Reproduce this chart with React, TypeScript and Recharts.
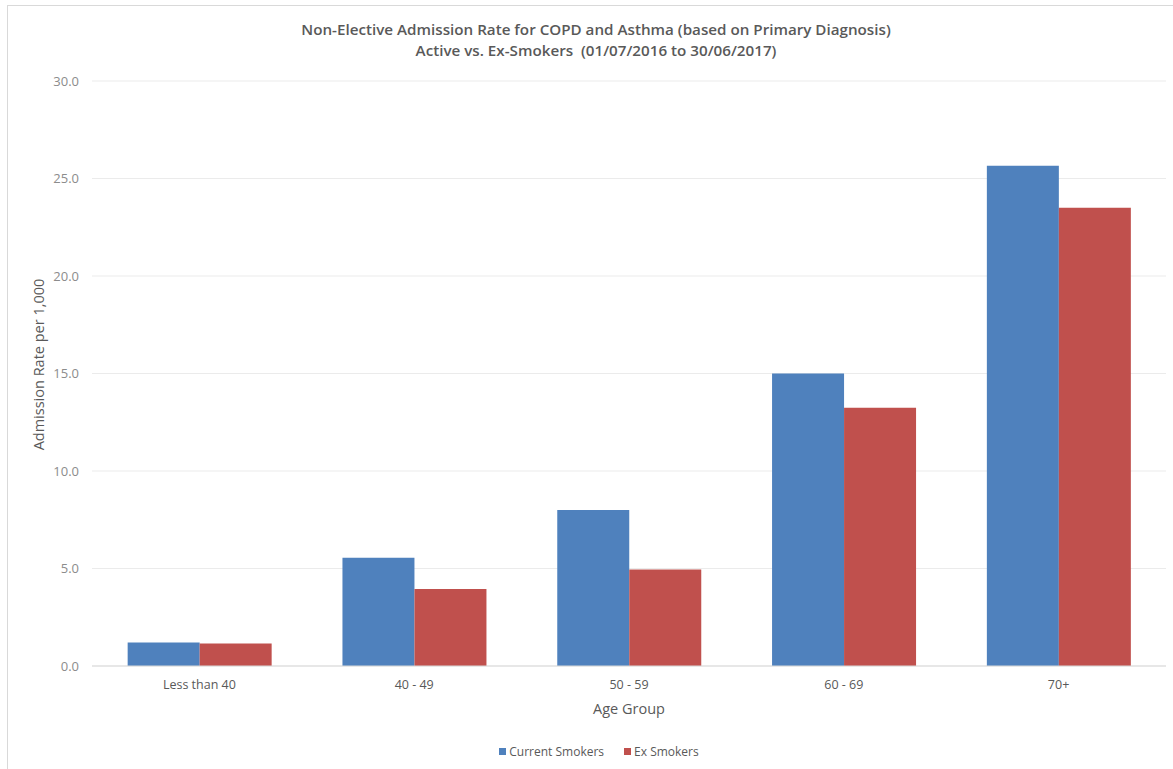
import React from 'react';
import { BarChart, Bar, XAxis, YAxis, CartesianGrid, Legend } from 'recharts';

const categories = ['Less than 40', '40 - 49', '50 - 59', '60 - 69', '70+'];
const currentSmokers = [1.2, 5.55, 8.0, 15.0, 25.65];
const exSmokers = [1.15, 3.95, 4.95, 13.25, 23.5];
const yTicks = [0, 5, 10, 15, 20, 25, 30];

const data = categories.map((c, i) => ({
  group: c,
  current: currentSmokers[i],
  ex: exSmokers[i],
}));

const FONT = '"Open Sans", "Noto Sans", sans-serif';

const renderLegend = (props: any) => {
  const payload = props.payload || [];
  return (
    <div
      style={{
        height: 20,
        display: 'flex',
        justifyContent: 'center',
        alignItems: 'center',
        fontFamily: FONT,
        fontSize: 12,
        color: '#595959',
      }}
    >
      {payload.map((p: any, i: number) => (
        <div key={i} style={{ display: 'flex', alignItems: 'center', marginLeft: i === 0 ? 0 : 20 }}>
          <span style={{ display: 'inline-block', width: 7, height: 7, background: p.color, marginRight: 3 }} />
          <span>{p.value}</span>
        </div>
      ))}
    </div>
  );
};

const renderYLabel = (props: any) => {
  const vb = props.viewBox || { x: 0, y: 0, width: 0, height: 0 };
  const x = vb.x + 6;
  const y = vb.y + vb.height / 2 - 9;
  return (
    <text
      x={x}
      y={y}
      transform={`rotate(-90, ${x}, ${y})`}
      textAnchor="middle"
      dominantBaseline="central"
      fill="#595959"
      fontSize={14.5}
      fontFamily={FONT}
    >
      Admission Rate per 1,000
    </text>
  );
};

export default function App() {
  return (
    <div
      style={{
        position: 'absolute',
        left: 0,
        top: 0,
        width: 1173,
        height: 769,
        overflow: 'hidden',
        background: '#fff',
        fontFamily: FONT,
      }}
    >
      <div
        style={{
          position: 'absolute',
          left: 7,
          top: 5,
          width: 1190,
          height: 790,
          border: '1px solid #d9d9d9',
        }}
      />
      <div
        style={{
          position: 'absolute',
          left: 0,
          top: 19,
          width: 1192,
          textAlign: 'center',
          color: '#595959',
          fontSize: 15.2,
          fontWeight: 600,
          lineHeight: '21px',
        }}
      >
        <div>Non-Elective Admission Rate for COPD and Asthma (based on Primary Diagnosis)</div>
        <div>Active vs. Ex-Smokers&nbsp; (01/07/2016 to 30/06/2017)</div>
      </div>
      <div style={{ position: 'absolute', left: 0, top: 0 }}>
        <BarChart
          width={1173}
          height={769}
          data={data}
          margin={{ top: 81, right: 7, bottom: 8, left: 32 }}
          barCategoryGap="16.6%"
          barGap={0}
        >
          <CartesianGrid vertical={false} stroke="#ebebeb" />
          <XAxis
            dataKey="group"
            height={75}
            tickSize={0}
            tickMargin={14}
            axisLine={{ stroke: '#d9d9d9' }}
            tick={{ fill: '#595959', fontSize: 12.5, fontFamily: FONT }}
            label={{
              value: 'Age Group',
              position: 'insideBottom',
              offset: 27,
              style: { fill: '#595959', fontSize: 14.5, fontFamily: FONT },
            }}
          />
          <YAxis
            width={60}
            domain={[0, 30]}
            ticks={yTicks}
            interval={0}
            tickSize={0}
            tickMargin={13}
            axisLine={false}
            tickFormatter={(v: number) => v.toFixed(1)}
            tick={{ fill: '#8c8c8c', fontSize: 13, fontFamily: FONT }}
            label={{ content: renderYLabel }}
          />
          <Legend verticalAlign="bottom" align="center" content={renderLegend} />
          <Bar dataKey="current" name="Current Smokers" fill="#4f81bd" isAnimationActive={false} />
          <Bar dataKey="ex" name="Ex Smokers" fill="#c0504d" isAnimationActive={false} />
        </BarChart>
      </div>
    </div>
  );
}
